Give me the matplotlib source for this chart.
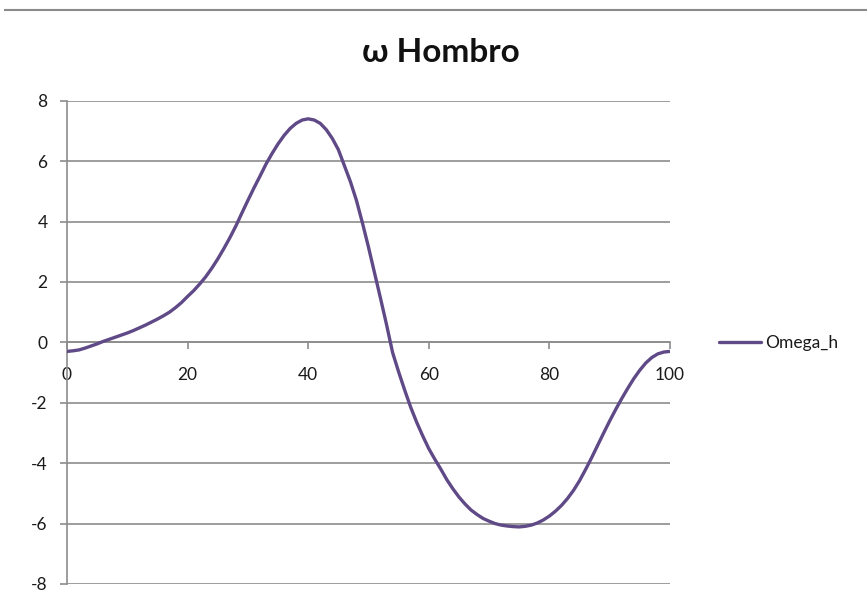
import matplotlib
matplotlib.use("Agg")
import matplotlib.pyplot as plt
from matplotlib.lines import Line2D

plt.rcParams['font.family'] = ['Lato', 'DejaVu Sans']

# Data (percent of cycle vs. angular velocity)
x_pct = list(range(0, 101))
omega_h = [-0.30, -0.28, -0.25, -0.19, -0.12, -0.05, 0.03, 0.10, 0.17, 0.24,
           0.31, 0.39, 0.48, 0.57, 0.67, 0.77, 0.88, 1.00, 1.15, 1.32,
           1.52, 1.71, 1.93, 2.17, 2.45, 2.76, 3.10, 3.46, 3.85, 4.28,
           4.70, 5.11, 5.50, 5.90, 6.25, 6.57, 6.85, 7.08, 7.25, 7.36,
           7.40, 7.36, 7.25, 7.04, 6.75, 6.38, 5.85, 5.32, 4.70, 3.95,
           3.15, 2.30, 1.45, 0.58, -0.34, -0.98, -1.58, -2.15, -2.65, -3.10,
           -3.52, -3.87, -4.20, -4.55, -4.85, -5.12, -5.35, -5.55, -5.70, -5.83,
           -5.92, -6.00, -6.05, -6.08, -6.10, -6.11, -6.09, -6.05, -5.98, -5.88,
           -5.75, -5.59, -5.40, -5.17, -4.90, -4.58, -4.21, -3.82, -3.41, -3.00,
           -2.60, -2.22, -1.86, -1.52, -1.20, -0.92, -0.68, -0.50, -0.38, -0.32,
           -0.30]
x_ticks = [0, 20, 40, 60, 80, 100]
y_ticks = [-8, -6, -4, -2, 0, 2, 4, 6, 8]
title = "ω Hombro"
series_name = "Omega_h"

W, H = 867, 604
fig = plt.figure(figsize=(W / 100, H / 100), dpi=100)
ax = fig.add_axes([67 / W, 1 - 584 / H, (670 - 67) / W, (584 - 100.7) / H])

grid_c = '#8c8c8c'
line_c = '#5f4a87'
txt_c = '#1a1a1a'

for yv in y_ticks:
    ax.axhline(yv, color=grid_c, lw=1.2, zorder=1)

ln, = ax.plot(x_pct, omega_h, color=line_c, lw=2.4, zorder=3, label=series_name,
              solid_capstyle='round', solid_joinstyle='round')

ax.set_xlim(0, 100)
ax.set_ylim(-8, 8)
ax.set_xticks(x_ticks)
ax.set_yticks(y_ticks)
ax.set_yticklabels([str(v) for v in y_ticks])

for s in ['top', 'right']:
    ax.spines[s].set_visible(False)
ax.spines['left'].set_color(grid_c)
ax.spines['left'].set_linewidth(1.2)
ax.spines['bottom'].set_position(('data', 0))
ax.spines['bottom'].set_color(grid_c)
ax.spines['bottom'].set_linewidth(1.2)
ax.spines['bottom'].set_zorder(1)

ax.tick_params(axis='y', length=5, width=1.2, color=grid_c, pad=9,
               labelsize=12.5, labelcolor=txt_c)
ax.tick_params(axis='x', length=5, width=1.2, color=grid_c, direction='out', pad=13,
               labelsize=12.5, labelcolor=txt_c)

fig.text(0.508, 1 - 52 / H, title, ha='center', va='center',
         fontsize=24, fontweight='bold', color='#111111')

leg = fig.legend(handles=[ln], labels=[series_name], loc='center left',
                 bbox_to_anchor=(719 / W, 1 - 342.7 / H), frameon=False,
                 fontsize=12.5, handlelength=2.4, handletextpad=0.25,
                 borderaxespad=0, borderpad=0)
for t in leg.get_texts():
    t.set_color(txt_c)

fig.add_artist(Line2D([5 / W, 1], [1 - 10 / H, 1 - 10 / H], transform=fig.transFigure,
                      color='#8a8a8a', lw=1.5))

fig.savefig('out.png', dpi=100)
